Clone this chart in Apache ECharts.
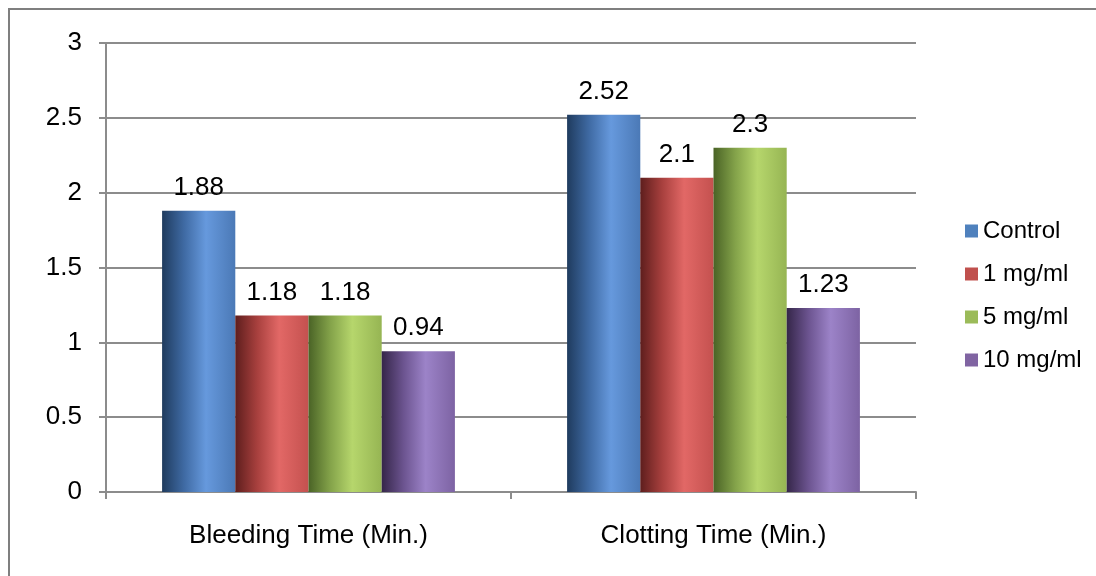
<!DOCTYPE html>
<html>
<head>
<meta charset="utf-8">
<script src="https://cdn.jsdelivr.net/npm/echarts@6/dist/echarts.min.js"></script>
<style>html,body{margin:0;padding:0;background:#fff;}#c{width:1096px;height:576px;}</style>
</head>
<body>
<div id="c"></div>
<script>
const categories = ['Bleeding Time (Min.)', 'Clotting Time (Min.)'];
const seriesNames = ['Control', '1 mg/ml', '5 mg/ml', '10 mg/ml'];
const control = [1.88, 2.52];
const mg1 = [1.18, 2.1];
const mg5 = [1.18, 2.3];
const mg10 = [0.94, 1.23];
const yTicks = [0, 0.5, 1, 1.5, 2, 2.5, 3];

const values = [control, mg1, mg5, mg10];
const flat = ['#4f81bd', '#c0504d', '#9bbb59', '#8064a2'];
const grads = [
  ['#1f3b5e', '#3f6aa3', '#6699dd', '#4b79b6'],
  ['#5e1e1d', '#a8403e', '#e26866', '#c4514f'],
  ['#4a6326', '#84a34a', '#b6d66c', '#96b553'],
  ['#352649', '#6c5490', '#9c83c8', '#7d63a3']
];
function grad(c) {
  return new echarts.graphic.LinearGradient(0, 0, 1, 0, [
    {offset: 0, color: c[0]},
    {offset: 0.3, color: c[1]},
    {offset: 0.6, color: c[2]},
    {offset: 1, color: c[3]}
  ]);
}
const font = 'Liberation Sans, Arial, sans-serif';
const chart = echarts.init(document.getElementById('c'), null, {renderer: 'canvas'});
chart.setOption({
  animation: false,
  backgroundColor: '#fff',
  graphic: [{
    type: 'rect', silent: true,
    shape: {x: 9, y: 9, width: 1200, height: 700},
    style: {fill: 'none', stroke: '#7f7f7f', lineWidth: 2}
  }],
  grid: {left: 106, right: 180, top: 43, bottom: 84, containLabel: false},
  legend: {
    orient: 'vertical', left: 960, top: 214,
    itemWidth: 13, itemHeight: 13, itemGap: 19,
    icon: 'rect',
    textStyle: {fontFamily: font, fontSize: 24, color: '#000'},
    data: seriesNames.map((n, i) => ({name: n, itemStyle: {color: flat[i]}}))
  },
  xAxis: {
    type: 'category', data: categories,
    axisLine: {lineStyle: {color: '#8c8c8c', width: 2}},
    axisTick: {show: true, length: 7, lineStyle: {color: '#8c8c8c', width: 2}},
    axisLabel: {fontFamily: font, fontSize: 26, color: '#000', margin: 31}
  },
  yAxis: {
    type: 'value', min: 0, max: 3, interval: 0.5,
    axisLine: {show: true, lineStyle: {color: '#8c8c8c', width: 2}},
    axisTick: {show: true, length: 7, lineStyle: {color: '#8c8c8c', width: 2}},
    splitLine: {lineStyle: {color: '#8c8c8c', width: 2}},
    axisLabel: {fontFamily: font, fontSize: 26, color: '#000', margin: 24,
      formatter: v => yTicks.includes(v) ? String(v) : ''}
  },
  series: seriesNames.map((n, i) => ({
    name: n, type: 'bar', data: values[i],
    barGap: '0%', barCategoryGap: '27.7%',
    itemStyle: {color: grad(grads[i])},
    label: {show: true, position: 'top', distance: 10, fontFamily: font, fontSize: 26, color: '#000',
      formatter: p => String(p.value)}
  }))
});
</script>
</body>
</html>
